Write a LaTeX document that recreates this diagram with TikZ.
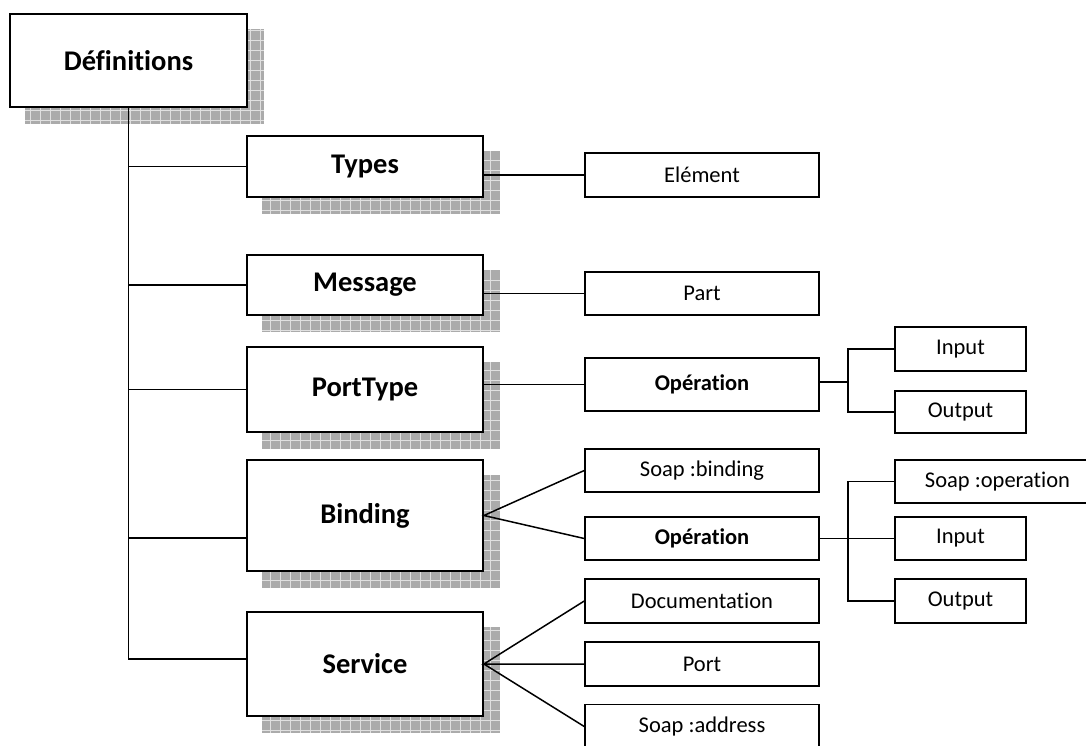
\documentclass[tikz,border=0pt]{standalone}
\usepackage{fontspec}
\setmainfont{Carlito}[Ligatures=NoCommon]
\usetikzlibrary{backgrounds}

\begin{document}
\begin{tikzpicture}[x=1pt,y=-1pt,
  bigbox/.style={draw,line width=1.8pt,fill=white,inner sep=0pt,
    font=\fontsize{28.5}{31}\selectfont\bfseries,minimum width=236pt},
  smallbox/.style={draw,line width=1.5pt,fill=white,inner sep=0pt,
    font=\fontsize{22.5}{25}\selectfont,minimum width=234pt,minimum height=44pt},
  smallbold/.style={smallbox,font=\fontsize{22.5}{25}\selectfont\bfseries},
  leafbox/.style={smallbox,minimum width=131pt},
  link/.style={line width=1.5pt}]
\useasboundingbox (0,0) rectangle (1086,745);
\clip (0,0) rectangle (1086,745);

\node[bigbox,minimum width=237pt,minimum height=93pt] (def) at (128.5,60.5) {Définitions};
\node[bigbox,minimum height=61pt] (types) at (365,166.5) {Types};
\node[bigbox,minimum height=60pt] (message) at (365,285) {Message};
\node[bigbox,minimum height=85pt] (porttype) at (365,389.5) {PortType};
\node[bigbox,minimum height=111pt] (binding) at (365,515.5) {Binding};
\node[bigbox,minimum height=104pt] (service) at (365,664) {Service};

\node[smallbox] (element) at (702,175) {Elément};
\node[smallbox,minimum height=43pt] (part) at (702,293.5) {Part};
\node[smallbold,minimum height=53pt] (op1) at (702,384.5) {Opération};
\node[smallbox,minimum height=43pt] (soapbind) at (702,470.5) {Soap :binding};
\node[smallbold,minimum height=43pt] (op2) at (702,538.5) {Opération};
\node[smallbox] (doc) at (702,601) {Documentation};
\node[smallbox] (port) at (702,664) {Port};
\node[smallbox] (soapaddr) at (702,726.5) {Soap :address};

\node[leafbox] (in1) at (960.5,349) {Input};
\node[leafbox,minimum height=42pt] (out1) at (960.5,412) {Output};
\node[leafbox,minimum width=205pt,minimum height=43pt] (soapop) at (997.5,481.5) {Soap :operation};
\node[leafbox,minimum height=43pt] (in2) at (960.5,538.5) {Input};
\node[leafbox] (out2) at (960.5,601) {Output};

% shadows
\begin{scope}[on background layer]
\foreach \b in {def,types,message,porttype,binding,service}{
  \begin{scope}
    \clip ([shift={(16pt,-16pt)}]\b.south west) rectangle ([shift={(16pt,-16pt)}]\b.north east);
    \fill[black!33] ([shift={(16pt,-16pt)}]\b.south west) rectangle ([shift={(16pt,-16pt)}]\b.north east);
    \draw[black!12,line width=0.8pt,step=10pt] ([shift={(11pt,-21pt)}]\b.south west) grid ([shift={(16pt,-16pt)}]\b.north east);
  \end{scope}}
\end{scope}

% trunk
\draw[link] (def.south) |- ([yshift=5pt]service.west);
\foreach \b in {types,message,porttype}
  \draw[link] (def.south |- \b.west) -- (\b.west);
\draw[link] (def.south |- binding.west) ++(0,22.5) -- ([yshift=-22.5pt]binding.west);

\draw[link] (types.east |- element.west) -- (element.west);
\draw[link] (message.east |- part.west) -- (part.west);
\draw[link] (porttype.east |- op1.west) -- (op1.west);

\coordinate (f1) at ([xshift=28pt,yshift=2.5pt]op1.east);
\draw[link] (op1.east |- f1) -- (f1);
\draw[link] (in1.west) -| (f1) |- (out1.west);

\draw[link] (soapbind.west) -- (binding.east) -- (op2.west);
\draw[link] (doc.west) -- (service.east) -- (port.west);
\draw[link] (service.east) -- (soapaddr.west);

\coordinate (f2) at ([xshift=28pt]op2.east);
\draw[link] (op2.east) -- (in2.west);
\draw[link] (soapop.west) -| (f2) |- (out2.west);
\end{tikzpicture}
\end{document}
